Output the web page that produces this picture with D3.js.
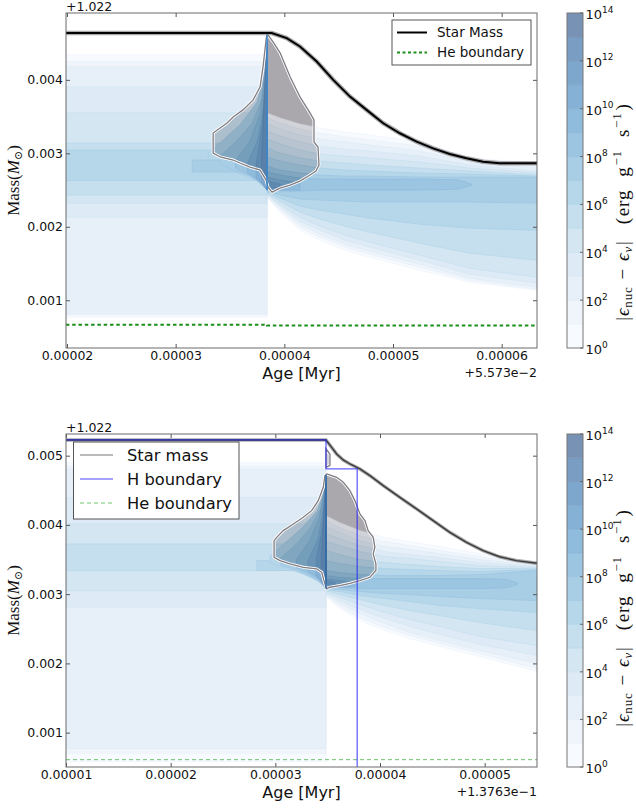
<!DOCTYPE html>
<html>
<head>
<meta charset="utf-8">
<script src="https://cdn.jsdelivr.net/npm/d3@7"></script>
<style>
  body { margin: 0; background: #fff; }
  svg text { font-family: "DejaVu Sans", sans-serif; }
  .math { font-family: "Liberation Serif", "DejaVu Serif", serif; }
</style>
</head>
<body>
<svg id="chart" width="636" height="809"></svg>
<script>
// Units: ages in 1e-5 Myr (offset shown on the axis), masses in 1e-3 Msun (offset +1.022)

// ---------- top panel (helium flash, offset age +5.573e-2 Myr) ----------
const topAgeTicks = [2, 3, 4, 5, 6];
const topAgeTickLabels = ["0.00002", "0.00003", "0.00004", "0.00005", "0.00006"];
const topMassTicks = [1, 2, 3, 4];
const topMassTickLabels = ["0.001", "0.002", "0.003", "0.004"];
const topFlashAge = 3.841;

const topStarAge  = [1.99, 3.841, 3.884, 4.022, 4.144, 4.298, 4.450, 4.604, 4.757, 4.910, 5.063, 5.217, 5.369, 5.522, 5.676, 5.829, 5.982, 6.330];
const topStarMass = [4.637, 4.637, 4.637, 4.569, 4.454, 4.250, 4.000, 3.772, 3.591, 3.409, 3.273, 3.158, 3.068, 2.990, 2.932, 2.885, 2.864, 2.864];

const topHeAge  = [1.99, 3.841, 6.33];
const topHeMass = [0.668, 0.655, 0.655];

const topSpikeMass = [2.50, 4.62];

// burning layers before the flash: [decade, lower mass, upper mass, first age]
const topPreLayers = [
  [0, 0.768, 4.341, 1.99],
  [1, 0.800, 4.250, 1.99],
  [2, 0.820, 4.177, 1.99],
  [3, 2.131, 3.905, 1.99],
  [4, 2.322, 3.550, 1.99],
  [5, 2.431, 3.140, 1.99],
  [6, 2.630, 3.045, 1.99],
  [7, 2.745, 2.909, 3.152]
];

// runaway just before the flash
const topRunaway = [
  { k: 6,  age: [3.30, 3.45, 3.60, 3.75, 3.841], lo: [2.90, 2.80, 2.72, 2.62, 2.50], hi: [3.00, 3.20, 3.40, 3.70, 4.20] },
  { k: 7,  age: [3.40, 3.55, 3.70, 3.80, 3.841], lo: [2.86, 2.76, 2.68, 2.58, 2.50], hi: [2.95, 3.15, 3.40, 3.75, 4.30] },
  { k: 8,  age: [3.55, 3.68, 3.78, 3.841],       lo: [2.80, 2.70, 2.60, 2.50],       hi: [2.90, 3.15, 3.55, 4.40] },
  { k: 9,  age: [3.66, 3.76, 3.82, 3.841],       lo: [2.74, 2.64, 2.56, 2.50],       hi: [2.86, 3.20, 3.70, 4.50] },
  { k: 10, age: [3.74, 3.80, 3.841],             lo: [2.66, 2.58, 2.50],             hi: [2.85, 3.40, 4.55] },
  { k: 11, age: [3.79, 3.841],                   lo: [2.60, 2.50],                   hi: [2.90, 4.58] }
];

// burning fan after the flash, one row per decade 0..7
const topFanAge = [3.841, 3.961, 4.144, 4.328, 4.558, 4.788, 5.248, 5.707, 6.330];
const topFanTop = [
  [3.550, 3.482, 3.400, 3.345, 3.291, 3.250, 3.154, 2.936, 2.868],
  [3.482, 3.413, 3.331, 3.277, 3.222, 3.181, 3.099, 2.909, 2.840],
  [3.400, 3.331, 3.250, 3.195, 3.154, 3.113, 3.031, 2.881, 2.799],
  [3.304, 3.236, 3.154, 3.099, 3.059, 3.031, 2.963, 2.840, 2.758],
  [3.195, 3.127, 3.045, 2.990, 2.963, 2.936, 2.881, 2.799, 2.731],
  [3.072, 3.004, 2.936, 2.895, 2.868, 2.840, 2.799, 2.758, 2.704],
  [2.950, 2.895, 2.840, 2.799, 2.772, 2.758, 2.731, 2.717, 2.690],
  [2.827, 2.772, 2.731, 2.704, 2.690, 2.690, 2.677, 2.677, 2.677]
];
const topFanBottom = [
  [2.404, 2.199, 1.953, 1.817, 1.681, 1.585, 1.407, 1.244, 1.135],
  [2.404, 2.226, 1.994, 1.858, 1.722, 1.626, 1.449, 1.271, 1.149],
  [2.417, 2.254, 2.035, 1.899, 1.762, 1.667, 1.490, 1.299, 1.176],
  [2.431, 2.281, 2.076, 1.953, 1.817, 1.722, 1.544, 1.353, 1.231],
  [2.445, 2.308, 2.131, 2.008, 1.885, 1.790, 1.612, 1.435, 1.312],
  [2.458, 2.349, 2.199, 2.104, 2.008, 1.926, 1.776, 1.640, 1.544],
  [2.472, 2.390, 2.281, 2.226, 2.172, 2.117, 2.035, 1.981, 1.953],
  [2.486, 2.431, 2.376, 2.363, 2.349, 2.336, 2.336, 2.336, 2.322]
];
const topCore = [
  { k: 8,  age: [3.841, 3.961, 4.144, 4.328, 4.558, 4.788, 5.248, 5.600, 5.722], lo: [2.513, 2.486, 2.486, 2.499, 2.499, 2.499, 2.499, 2.510, 2.565], hi: [2.745, 2.704, 2.663, 2.649, 2.649, 2.649, 2.649, 2.640, 2.580] },
  { k: 9,  age: [3.841, 3.961, 4.144], lo: [2.527, 2.499, 2.499], hi: [2.677, 2.636, 2.595] },
  { k: 10, age: [3.841, 3.961],        lo: [2.540, 2.527],        hi: [2.622, 2.581] }
];

// convective zone outline
const topConvAge  = [3.841, 3.896, 3.961, 4.007, 4.053, 4.098, 4.144, 4.190, 4.236, 4.273, 4.273, 4.310, 4.319, 4.291, 4.236, 4.144, 4.053, 3.961, 3.887, 3.850, 3.832, 3.777, 3.685, 3.591, 3.529, 3.409, 3.345, 3.345, 3.409, 3.473, 3.529, 3.620, 3.713, 3.777, 3.804, 3.832];
const topConvMass = [4.628, 4.518, 4.368, 4.205, 4.041, 3.905, 3.768, 3.659, 3.550, 3.454, 3.154, 3.086, 2.840, 2.759, 2.704, 2.622, 2.568, 2.527, 2.472, 2.540, 2.636, 2.772, 2.813, 2.868, 2.909, 2.950, 3.004, 3.277, 3.345, 3.413, 3.495, 3.591, 3.727, 3.905, 4.177, 4.546];

// ---------- bottom panel (offset age +1.3763e-1 Myr) ----------
const botAgeTicks = [1, 2, 3, 4, 5];
const botAgeTickLabels = ["0.00001", "0.00002", "0.00003", "0.00004", "0.00005"];
const botMassTicks = [1, 2, 3, 4, 5];
const botMassTickLabels = ["0.001", "0.002", "0.003", "0.004", "0.005"];
const botFlashAge = 3.484;

const botStarAge  = [1.0, 3.484, 3.538, 3.586, 3.649, 3.713, 3.808, 3.904, 4.031, 4.190, 4.349, 4.508, 4.667, 4.826, 4.985, 5.143, 5.303, 5.500];
const botStarMass = [5.227, 5.227, 5.120, 5.025, 4.938, 4.880, 4.808, 4.711, 4.567, 4.398, 4.231, 4.062, 3.893, 3.749, 3.629, 3.540, 3.485, 3.446];

const botHAge  = [1.0, 3.484, 3.782, 5.6];
const botHMass = [5.227, 4.808, 0.0, 0.0];

const botHeAge  = [1.0, 5.5];
const botHeMass = [0.61, 0.61];

const botSpikeMass = [3.08, 4.72];

const botPreLayers = [
  [0, 0.580, 4.899, 1.0],
  [1, 0.700, 4.850, 1.0],
  [2, 0.770, 4.808, 1.0],
  [3, 2.811, 4.398, 1.0],
  [4, 3.052, 4.014, 1.0],
  [5, 3.341, 3.725, 1.0],
  [6, 3.341, 3.485, 2.823]
];

const botRunaway = [
  { k: 6,  age: [2.95, 3.10, 3.25, 3.40, 3.484], lo: [3.45, 3.38, 3.30, 3.20, 3.08], hi: [3.55, 3.75, 3.95, 4.20, 4.55] },
  { k: 7,  age: [3.05, 3.20, 3.33, 3.44, 3.484], lo: [3.42, 3.35, 3.26, 3.16, 3.08], hi: [3.52, 3.72, 3.95, 4.25, 4.60] },
  { k: 8,  age: [3.20, 3.32, 3.42, 3.484],       lo: [3.38, 3.30, 3.20, 3.08],       hi: [3.50, 3.75, 4.10, 4.65] },
  { k: 9,  age: [3.31, 3.41, 3.46, 3.484],       lo: [3.33, 3.24, 3.15, 3.08],       hi: [3.48, 3.80, 4.25, 4.68] },
  { k: 10, age: [3.39, 3.45, 3.484],             lo: [3.26, 3.17, 3.08],             hi: [3.50, 3.95, 4.70] },
  { k: 11, age: [3.44, 3.484],                   lo: [3.18, 3.08],                   hi: [3.55, 4.72] }
];

const botFanAge = [3.484, 3.617, 3.808, 4.047, 4.285, 4.571, 4.953, 5.500];
const botFanTop = [
  [4.134, 4.033, 3.918, 3.817, 3.759, 3.687, 3.586, 3.442],
  [4.062, 3.961, 3.846, 3.759, 3.701, 3.629, 3.543, 3.427],
  [3.975, 3.889, 3.773, 3.687, 3.644, 3.586, 3.499, 3.413],
  [3.875, 3.802, 3.701, 3.615, 3.572, 3.528, 3.456, 3.398],
  [3.759, 3.701, 3.615, 3.543, 3.514, 3.470, 3.413, 3.384],
  [3.629, 3.572, 3.499, 3.456, 3.427, 3.398, 3.370, 3.370],
  [3.485, 3.442, 3.398, 3.370, 3.355, 3.341, 3.326, 3.355],
  [3.341, 3.312, 3.283, 3.269, 3.269, 3.269, 3.283, 3.341]
];
const botFanBottom = [
  [2.966, 2.792, 2.619, 2.475, 2.359, 2.244, 2.100, 1.883],
  [2.980, 2.821, 2.662, 2.518, 2.403, 2.287, 2.143, 1.926],
  [2.994, 2.864, 2.720, 2.576, 2.446, 2.331, 2.186, 1.999],
  [3.009, 2.908, 2.778, 2.648, 2.532, 2.417, 2.273, 2.114],
  [3.023, 2.951, 2.850, 2.735, 2.633, 2.532, 2.388, 2.258],
  [3.052, 2.994, 2.922, 2.835, 2.763, 2.691, 2.590, 2.475],
  [3.066, 3.038, 2.980, 2.937, 2.893, 2.835, 2.792, 2.735],
  [3.081, 3.066, 3.038, 3.009, 2.994, 2.966, 2.937, 2.908]
];
const botCore = [
  { k: 8,  age: [3.484, 3.617, 3.808, 4.047, 4.285, 4.571, 4.953, 5.200, 5.316], lo: [3.110, 3.095, 3.081, 3.081, 3.081, 3.081, 3.081, 3.090, 3.140], hi: [3.269, 3.240, 3.225, 3.225, 3.225, 3.225, 3.225, 3.215, 3.160] },
  { k: 9,  age: [3.484, 3.617, 3.760], lo: [3.110, 3.095, 3.110], hi: [3.225, 3.196, 3.168] },
  { k: 10, age: [3.484, 3.570],        lo: [3.124, 3.124],        hi: [3.196, 3.168] }
];

const botConvAge  = [3.490, 3.586, 3.649, 3.713, 3.760, 3.808, 3.856, 3.887, 3.935, 3.951, 3.935, 3.961, 3.961, 3.904, 3.808, 3.713, 3.617, 3.522, 3.490, 3.474, 3.443, 3.395, 3.267, 3.140, 3.045, 2.988, 2.988, 3.013, 3.076, 3.172, 3.267, 3.347, 3.410, 3.458, 3.474];
const botConvMass = [4.736, 4.687, 4.615, 4.495, 4.351, 4.159, 4.062, 3.918, 3.821, 3.677, 3.582, 3.437, 3.341, 3.244, 3.196, 3.157, 3.124, 3.100, 3.076, 3.149, 3.316, 3.365, 3.388, 3.437, 3.485, 3.532, 3.773, 3.821, 3.918, 4.014, 4.110, 4.206, 4.351, 4.543, 4.711];
const botConv2Age  = [3.484, 3.522, 3.522, 3.484];
const botConv2Mass = [5.100, 5.020, 4.860, 4.830];

// colour bar: decades of |eps_nuc - eps_nu|
const cbDecades = d3.range(0, 14);
const cbTickExps = [0, 2, 4, 6, 8, 10, 12, 14];

// ---------- drawing ----------
const svg = d3.select("#chart");
const defs = svg.append("defs");
const LEVELS = 14;
const BAND_ALPHA = 0.55;
const CONV_GRAY = "#aaa8ac";

function bandColor(base, k) {
  const c = d3.rgb(d3.interpolateBlues(Math.min(1, (k + 0.5) / LEVELS)));
  const b = d3.rgb(base);
  return d3.rgb(
    b.r + (c.r - b.r) * BAND_ALPHA,
    b.g + (c.g - b.g) * BAND_ALPHA,
    b.b + (c.b - b.b) * BAND_ALPHA
  ).formatHex();
}

function zip(a, b) { return a.map((v, i) => [v, b[i]]); }

function drawPanel(P) {
  const [x0, y0, x1, y1] = P.box;
  const x = d3.scaleLinear().domain(P.ageDomain).range([x0, x1]);
  const y = d3.scaleLinear().domain(P.massDomain).range([y1, y0]);
  const g = svg.append("g");

  const clipId = P.id + "-plot";
  defs.append("clipPath").attr("id", clipId)
    .append("rect").attr("x", x0).attr("y", y0).attr("width", x1 - x0).attr("height", y1 - y0);
  const plot = g.append("g").attr("clip-path", `url(#${clipId})`);

  // burning regions, each decade painted over the lower ones
  const pieces = [];
  P.pre.forEach(([k, lo, hi, a0]) => pieces.push({ k, age: [a0, P.flash], lo: [lo, lo], hi: [hi, hi] }));
  P.run.forEach(r => pieces.push(r));
  P.fanTop.forEach((top, k) => pieces.push({ k, age: P.fanAge, lo: P.fanBottom[k], hi: top }));
  P.core.forEach(c => pieces.push(c));
  pieces.sort((a, b) => a.k - b.k);

  const area = d3.area().x(d => x(d[0])).y0(d => y(d[1])).y1(d => y(d[2]));
  const piecePath = p => area(p.age.map((a, i) => [a, p.lo[i], p.hi[i]]));

  plot.append("g").selectAll("path").data(pieces).join("path")
    .attr("d", piecePath).attr("fill", p => bandColor("#ffffff", p.k))
    .attr("stroke", p => bandColor("#ffffff", p.k + 1.2)).attr("stroke-width", 0.6);

  // convective zone
  const ring = d3.line().x(d => x(d[0])).y(d => y(d[1])).curve(d3.curveLinearClosed);
  const convD = P.conv.map(c => ring(zip(c.age, c.mass)));
  const convClip = P.id + "-conv";
  defs.append("clipPath").attr("id", convClip)
    .selectAll("path").data(convD).join("path").attr("d", d => d);
  plot.append("g").selectAll("path").data(convD).join("path")
    .attr("d", d => d).attr("fill", CONV_GRAY);
  plot.append("g").attr("clip-path", `url(#${convClip})`)
    .selectAll("path").data(pieces).join("path")
    .attr("d", piecePath).attr("fill", p => bandColor(CONV_GRAY, p.k))
    .attr("stroke", p => bandColor(CONV_GRAY, p.k + 1.2)).attr("stroke-width", 0.6);
  plot.append("g").selectAll("path").data(convD).join("path")
    .attr("d", d => d).attr("fill", "none").attr("stroke", "#fff").attr("stroke-width", 3);
  plot.append("g").selectAll("path").data(convD).join("path")
    .attr("d", d => d).attr("fill", "none").attr("stroke", "#7f7c82").attr("stroke-width", 1.3);

  // flash spike
  plot.append("line")
    .attr("x1", x(P.flash)).attr("x2", x(P.flash))
    .attr("y1", y(P.spike[0])).attr("y2", y(P.spike[1]))
    .attr("stroke", P.spikeColor).attr("stroke-width", 1.6);

  const line = d3.line().x(d => x(d[0])).y(d => y(d[1]));

  // He boundary
  plot.append("path")
    .attr("d", line.curve(d3.curveStepAfter)(zip(P.heAge, P.heMass)))
    .attr("fill", "none").attr("stroke", P.heStyle.color)
    .attr("stroke-width", P.heStyle.width).attr("stroke-dasharray", P.heStyle.dash);

  // star mass
  line.curve(d3.curveLinear);
  plot.append("path").attr("d", line(zip(P.starAge, P.starMass)))
    .attr("fill", "none").attr("stroke", "#8e8c90").attr("stroke-width", P.starStyle.halo).attr("stroke-opacity", 0.75);
  plot.append("path").attr("d", line(zip(P.starAge, P.starMass)))
    .attr("fill", "none").attr("stroke", P.starStyle.color).attr("stroke-width", P.starStyle.width);

  // H boundary
  if (P.hAge) {
    plot.append("path")
      .attr("d", d3.line().x(d => x(d[0])).y(d => y(d[1])).curve(d3.curveStepAfter)(zip(P.hAge, P.hMass)))
      .attr("fill", "none").attr("stroke", "#2020ff").attr("stroke-opacity", 0.7).attr("stroke-width", 1.3);
  }

  // axes: inward ticks on all four sides
  const tickCol = "#555";
  const axB = g.append("g").attr("transform", `translate(0,${y1})`)
    .call(d3.axisBottom(x).tickValues(P.xTicks).tickFormat((d, i) => P.xLabels[i]).tickSizeInner(-4).tickSizeOuter(0).tickPadding(3.5));
  const axT = g.append("g").attr("transform", `translate(0,${y0})`)
    .call(d3.axisTop(x).tickValues(P.xTicks).tickFormat("").tickSizeInner(-4).tickSizeOuter(0));
  const axL = g.append("g").attr("transform", `translate(${x0},0)`)
    .call(d3.axisLeft(y).tickValues(P.yTicks).tickFormat((d, i) => P.yLabels[i]).tickSizeInner(-4).tickSizeOuter(0).tickPadding(3));
  const axR = g.append("g").attr("transform", `translate(${x1},0)`)
    .call(d3.axisRight(y).tickValues(P.yTicks).tickFormat("").tickSizeInner(-4).tickSizeOuter(0));
  [axB, axT, axL, axR].forEach(a => {
    a.select(".domain").remove();
    a.selectAll(".tick line").attr("stroke", tickCol);
    a.selectAll(".tick text").attr("fill", "#111").style("font-size", "12.5px");
  });
  g.append("rect").attr("x", x0).attr("y", y0).attr("width", x1 - x0).attr("height", y1 - y0)
    .attr("fill", "none").attr("stroke", "#6a6a6a").attr("stroke-width", 1);

  // offsets and axis titles
  g.append("text").attr("x", x0).attr("y", y0 - 2.5).style("font-size", "12.5px").attr("fill", "#111").text("+1.022");
  g.append("text").attr("x", x1).attr("y", y1 + 29).attr("text-anchor", "end").style("font-size", "12.5px").attr("fill", "#111").text(P.ageOffset);
  g.append("text").attr("x", (x0 + x1) / 2).attr("y", y1 + 30.5).attr("text-anchor", "middle").style("font-size", "16px").attr("fill", "#111").text("Age [Myr]");

  const yl = g.append("text").attr("class", "math").attr("text-anchor", "middle")
    .attr("transform", `translate(19,${(y0 + y1) / 2}) rotate(-90)`).style("font-size", "17px").attr("fill", "#111");
  yl.append("tspan").text("Mass(");
  yl.append("tspan").style("font-style", "italic").text("M");
  yl.append("tspan").attr("dy", 3).style("font-size", "11px").text("\u2299");
  yl.append("tspan").attr("dy", -3).text(")");

  // colour bar
  const cb = P.cbBox;
  const cy = d3.scaleLinear().domain([0, LEVELS]).range([cb[3], cb[1]]);
  g.append("g").selectAll("rect").data(cbDecades).join("rect")
    .attr("x", cb[0]).attr("width", cb[2] - cb[0])
    .attr("y", d => cy(d + 1)).attr("height", d => cy(d) - cy(d + 1))
    .attr("fill", d => bandColor("#ffffff", d));
  g.append("g").selectAll("line").data(cbDecades.slice(1)).join("line")
    .attr("x1", cb[0]).attr("x2", cb[2]).attr("y1", d => cy(d)).attr("y2", d => cy(d))
    .attr("stroke", d => bandColor("#ffffff", d + 1)).attr("stroke-width", 0.7);
  g.append("rect").attr("x", cb[0]).attr("y", cb[1]).attr("width", cb[2] - cb[0]).attr("height", cb[3] - cb[1])
    .attr("fill", "none").attr("stroke", "#777").attr("stroke-width", 1);
  const cbt = g.append("g").selectAll("g").data(cbTickExps).join("g")
    .attr("transform", d => `translate(${cb[2]},${cy(d)})`);
  cbt.append("line").attr("x1", -3).attr("x2", 0).attr("stroke", "#666");
  const lab = cbt.append("text").attr("x", 2.5).attr("y", 6).style("font-size", "13px").attr("fill", "#111");
  lab.append("tspan").text("10");
  lab.append("tspan").attr("dy", -6.5).style("font-size", "9px").text(d => d);

  // colour bar title, reading upwards
  const cl = g.append("text").attr("class", "math").attr("text-anchor", "middle")
    .attr("transform", `translate(629,${P.cbLabelY}) rotate(-90)`)
    .style("font-size", "19px").style("letter-spacing", "0.8px").attr("fill", "#111");
  cl.append("tspan").text("|");
  cl.append("tspan").style("font-style", "italic").text("\u03f5");
  cl.append("tspan").attr("dy", 3).style("font-size", "13px").text("nuc");
  cl.append("tspan").attr("dy", -3).attr("dx", 7).text("\u2212");
  cl.append("tspan").attr("dx", 7).style("font-style", "italic").text("\u03f5");
  cl.append("tspan").attr("dy", 3).style("font-size", "13px").style("font-style", "italic").text("\u03bd");
  cl.append("tspan").attr("dy", -3).attr("dx", 1).text("|");
  cl.append("tspan").attr("dx", 16).text("(");
  cl.append("tspan").attr("dx", 1).text("erg");
  cl.append("tspan").attr("dx", 13).text("g");
  cl.append("tspan").attr("dy", -8).attr("dx", 1).style("font-size", "13px").text("\u22121");
  cl.append("tspan").attr("dy", 8).attr("dx", 13).text("s");
  cl.append("tspan").attr("dy", -8).attr("dx", 1).style("font-size", "13px").text("\u22121");
  cl.append("tspan").attr("dy", 8).attr("dx", 2).text(")");

  // legend
  const L = P.legend;
  const lg = g.append("g");
  lg.append("rect").attr("x", L.box[0]).attr("y", L.box[1]).attr("width", L.box[2] - L.box[0]).attr("height", L.box[3] - L.box[1])
    .attr("fill", "#fff").attr("stroke", "#555").attr("stroke-width", 1);
  L.items.forEach((it, i) => {
    const yy = L.rowY[i];
    lg.append("line").attr("x1", L.lineX[0]).attr("x2", L.lineX[1]).attr("y1", yy).attr("y2", yy)
      .attr("stroke", it.color).attr("stroke-width", it.width).attr("stroke-dasharray", it.dash || null)
      .attr("stroke-opacity", it.opacity || 1);
    lg.append("text").attr("x", L.textX).attr("y", yy).attr("dy", "0.36em").style("font-size", L.fontSize).attr("fill", "#111").text(it.label);
  });
}

drawPanel({
  id: "top",
  box: [66, 13, 537, 348],
  ageDomain: [1.991, 6.325],
  massDomain: [0.35, 4.91],
  flash: topFlashAge,
  pre: topPreLayers, run: topRunaway, fanAge: topFanAge, fanTop: topFanTop, fanBottom: topFanBottom, core: topCore,
  conv: [{ age: topConvAge, mass: topConvMass }],
  spike: topSpikeMass, spikeColor: "#3c86cc",
  heAge: topHeAge, heMass: topHeMass, heStyle: { color: "#1a8f1a", width: 2, dash: "3.5,2.8" },
  starAge: topStarAge, starMass: topStarMass, starStyle: { color: "#000", width: 2, halo: 4.5 },
  xTicks: topAgeTicks, xLabels: topAgeTickLabels, yTicks: topMassTicks, yLabels: topMassTickLabels,
  ageOffset: "+5.573e\u22122",
  cbBox: [567, 13, 583, 348], cbLabelY: 212,
  legend: {
    box: [392, 20, 531, 65], rowY: [32.5, 52.5], lineX: [397, 427], textX: 437, fontSize: "13.5px",
    items: [
      { label: "Star Mass", color: "#000", width: 2 },
      { label: "He boundary", color: "#1a8f1a", width: 2, dash: "3,2.5" }
    ]
  }
});

drawPanel({
  id: "bot",
  box: [66, 434, 537, 767],
  ageDomain: [1.0, 5.5],
  massDomain: [0.504, 5.313],
  flash: botFlashAge,
  pre: botPreLayers, run: botRunaway, fanAge: botFanAge, fanTop: botFanTop, fanBottom: botFanBottom, core: botCore,
  conv: [{ age: botConvAge, mass: botConvMass }, { age: botConv2Age, mass: botConv2Mass }],
  spike: botSpikeMass, spikeColor: "#2d67a6",
  heAge: botHeAge, heMass: botHeMass, heStyle: { color: "#6cc46c", width: 1, dash: "4,3" },
  starAge: botStarAge, starMass: botStarMass, starStyle: { color: "#3a3a3a", width: 1.4, halo: 3.5 },
  hAge: botHAge, hMass: botHMass,
  xTicks: botAgeTicks, xLabels: botAgeTickLabels, yTicks: botMassTicks, yLabels: botMassTickLabels,
  ageOffset: "+1.3763e\u22121",
  cbBox: [567, 434, 583, 767], cbLabelY: 618,
  legend: {
    box: [73.5, 442, 239, 519], rowY: [455, 479, 503], lineX: [80, 113], textX: 127, fontSize: "16.3px",
    items: [
      { label: "Star mass", color: "#777", width: 1.2 },
      { label: "H boundary", color: "#2020ff", width: 1.5, opacity: 0.55 },
      { label: "He boundary", color: "#6cc46c", width: 1, dash: "4,3" }
    ]
  }
});
</script>
</body>
</html>
